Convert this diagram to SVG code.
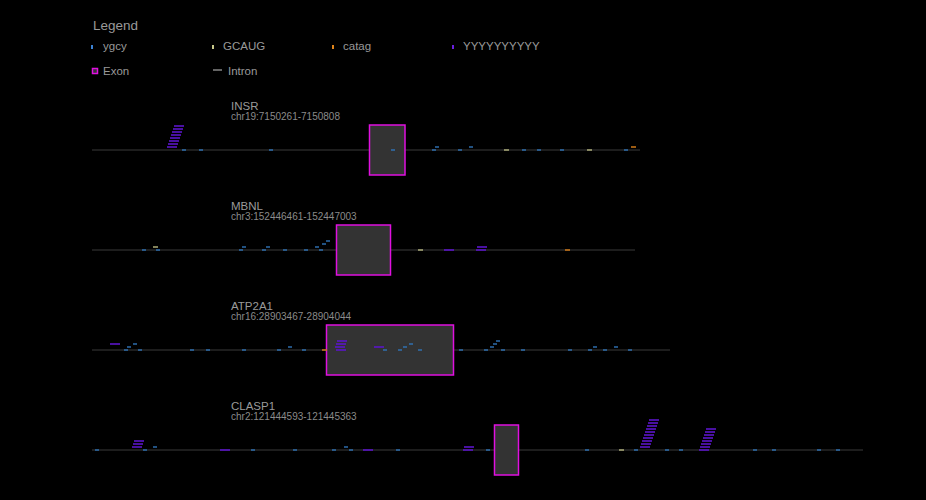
<svg xmlns="http://www.w3.org/2000/svg" width="926" height="500" viewBox="0 0 926 500">
<style>
text{font-family:"Liberation Sans",Arial,sans-serif;fill:#999}
.lt{font-size:13.5px}
.li{font-size:11.5px}
.gn{font-size:11.5px;fill:#9a9a9a}
.gc{font-size:10px;fill:#8a8a8a}
.intron{fill:#252525}
.exon{fill:#333;stroke:#e010e0;stroke-width:1.5}
.y{fill:#2f73b8;opacity:.7}
.g{fill:#b8b880;opacity:.7}
.c{fill:#d07a18;opacity:.75}
.p{fill:#5a14c8;opacity:.8}
</style>
<rect width="926" height="500" fill="#000"/>
<g id="legend">
<text class="lt" x="93" y="30">Legend</text>
<rect x="91" y="45" width="2" height="4" fill="#3b82d4"/>
<text class="li" x="103" y="50">ygcy</text>
<rect x="212" y="45" width="2" height="4" fill="#c8c88a"/>
<text class="li" x="223" y="50">GCAUG</text>
<rect x="332" y="45" width="2" height="4" fill="#e0841a"/>
<text class="li" x="343" y="50">catag</text>
<rect x="452" y="45" width="2" height="4" fill="#6a1fe0"/>
<text class="li" x="463" y="50">YYYYYYYYYY</text>
<rect x="92.5" y="68.5" width="5" height="5" fill="#333" stroke="#e010e0" stroke-width="1.5"/>
<text class="li" x="103" y="75">Exon</text>
<line x1="213" y1="70" x2="222" y2="70" stroke="#777" stroke-width="1.7"/>
<text class="li" x="228" y="75">Intron</text>
</g>
<g id="connectors">
<rect class="intron" x="92" y="149.2" width="548" height="1.6"/>
<rect class="intron" x="92" y="249.2" width="543" height="1.6"/>
<rect class="intron" x="92" y="349.2" width="578" height="1.6"/>
<rect class="intron" x="92" y="449.2" width="771" height="1.6"/>
</g>
<g id="gene-INSR">
<text class="gn" x="231" y="110">INSR</text>
<text class="gc" x="231" y="120">chr19:7150261-7150808</text>
<rect class="exon" x="369.5" y="125" width="35.5" height="50"/>
<rect class="p" x="167" y="146" width="10" height="2"/>
<rect class="p" x="168" y="143" width="10" height="2"/>
<rect class="p" x="169" y="140" width="10" height="2"/>
<rect class="p" x="170" y="137" width="10" height="2"/>
<rect class="p" x="171" y="134" width="10" height="2"/>
<rect class="p" x="172" y="131" width="10" height="2"/>
<rect class="p" x="173" y="128" width="10" height="2"/>
<rect class="p" x="174" y="125" width="10" height="2"/>
<rect class="y" x="182" y="149" width="4" height="2"/>
<rect class="y" x="199" y="149" width="4" height="2"/>
<rect class="y" x="269" y="149" width="4" height="2"/>
<rect class="y" x="391" y="149" width="4" height="2"/>
<rect class="y" x="432" y="149" width="4" height="2"/>
<rect class="y" x="435" y="146" width="4" height="2"/>
<rect class="y" x="458" y="149" width="4" height="2"/>
<rect class="y" x="469" y="146" width="4" height="2"/>
<rect class="g" x="504" y="149" width="5" height="2"/>
<rect class="y" x="522" y="149" width="4" height="2"/>
<rect class="y" x="537" y="149" width="4" height="2"/>
<rect class="y" x="560" y="149" width="4" height="2"/>
<rect class="g" x="587" y="149" width="5" height="2"/>
<rect class="y" x="624" y="149" width="4" height="2"/>
<rect class="c" x="631" y="146" width="5" height="2"/>
</g>
<g id="gene-MBNL">
<text class="gn" x="231" y="210">MBNL</text>
<text class="gc" x="231" y="220">chr3:152446461-152447003</text>
<rect class="exon" x="336.5" y="225" width="54" height="50"/>
<rect class="y" x="142" y="249" width="4" height="2"/>
<rect class="g" x="153" y="246" width="5" height="2"/>
<rect class="y" x="156" y="249" width="4" height="2"/>
<rect class="y" x="239" y="249" width="4" height="2"/>
<rect class="y" x="242" y="246" width="4" height="2"/>
<rect class="y" x="262" y="249" width="4" height="2"/>
<rect class="y" x="266" y="246" width="4" height="2"/>
<rect class="y" x="283" y="249" width="4" height="2"/>
<rect class="y" x="304" y="249" width="4" height="2"/>
<rect class="y" x="315" y="246" width="4" height="2"/>
<rect class="y" x="319" y="249" width="4" height="2"/>
<rect class="y" x="322" y="243" width="4" height="2"/>
<rect class="y" x="326" y="240" width="4" height="2"/>
<rect class="g" x="418" y="249" width="5" height="2"/>
<rect class="p" x="444" y="249" width="10" height="2"/>
<rect class="p" x="476" y="249" width="10" height="2"/>
<rect class="p" x="477" y="246" width="10" height="2"/>
<rect class="c" x="565" y="249" width="5" height="2"/>
</g>
<g id="gene-ATP2A1">
<text class="gn" x="231" y="310">ATP2A1</text>
<text class="gc" x="231" y="320">chr16:28903467-28904044</text>
<rect class="exon" x="326.5" y="325" width="127" height="50"/>
<rect class="p" x="110" y="343" width="10" height="2"/>
<rect class="y" x="124" y="349" width="4" height="2"/>
<rect class="y" x="127" y="346" width="4" height="2"/>
<rect class="y" x="133" y="343" width="4" height="2"/>
<rect class="y" x="138" y="349" width="4" height="2"/>
<rect class="y" x="190" y="349" width="4" height="2"/>
<rect class="y" x="206" y="349" width="4" height="2"/>
<rect class="y" x="242" y="349" width="4" height="2"/>
<rect class="y" x="277" y="349" width="4" height="2"/>
<rect class="y" x="288" y="346" width="4" height="2"/>
<rect class="y" x="302" y="349" width="4" height="2"/>
<rect class="c" x="322" y="349" width="5" height="2"/>
<rect class="p" x="336" y="349" width="10" height="2"/>
<rect class="p" x="335" y="346" width="10" height="2"/>
<rect class="p" x="336" y="343" width="10" height="2"/>
<rect class="p" x="337" y="340" width="10" height="2"/>
<rect class="p" x="374" y="346" width="10" height="2"/>
<rect class="y" x="383" y="349" width="4" height="2"/>
<rect class="y" x="398" y="349" width="4" height="2"/>
<rect class="y" x="403" y="346" width="4" height="2"/>
<rect class="y" x="409" y="343" width="4" height="2"/>
<rect class="y" x="418" y="349" width="4" height="2"/>
<rect class="y" x="459" y="349" width="4" height="2"/>
<rect class="y" x="484" y="349" width="4" height="2"/>
<rect class="y" x="490" y="346" width="4" height="2"/>
<rect class="y" x="493" y="343" width="4" height="2"/>
<rect class="y" x="496" y="340" width="4" height="2"/>
<rect class="y" x="501" y="349" width="4" height="2"/>
<rect class="y" x="521" y="349" width="4" height="2"/>
<rect class="y" x="568" y="349" width="4" height="2"/>
<rect class="y" x="588" y="349" width="4" height="2"/>
<rect class="y" x="593" y="346" width="4" height="2"/>
<rect class="y" x="603" y="349" width="4" height="2"/>
<rect class="y" x="614" y="346" width="4" height="2"/>
<rect class="y" x="628" y="349" width="4" height="2"/>
</g>
<g id="gene-CLASP1">
<text class="gn" x="231" y="410">CLASP1</text>
<text class="gc" x="231" y="420">chr2:121444593-121445363</text>
<rect class="exon" x="494.5" y="425" width="24" height="50"/>
<rect class="y" x="95" y="449" width="4" height="2"/>
<rect class="p" x="132" y="446" width="10" height="2"/>
<rect class="p" x="133" y="443" width="10" height="2"/>
<rect class="p" x="134" y="440" width="10" height="2"/>
<rect class="y" x="143" y="449" width="4" height="2"/>
<rect class="y" x="153" y="446" width="4" height="2"/>
<rect class="p" x="220" y="449" width="10" height="2"/>
<rect class="y" x="251" y="449" width="4" height="2"/>
<rect class="y" x="293" y="449" width="4" height="2"/>
<rect class="y" x="332" y="449" width="4" height="2"/>
<rect class="y" x="344" y="446" width="4" height="2"/>
<rect class="y" x="349" y="449" width="4" height="2"/>
<rect class="p" x="363" y="449" width="10" height="2"/>
<rect class="y" x="396" y="449" width="4" height="2"/>
<rect class="p" x="463" y="449" width="10" height="2"/>
<rect class="p" x="464" y="446" width="10" height="2"/>
<rect class="y" x="486" y="449" width="4" height="2"/>
<rect class="y" x="585" y="449" width="4" height="2"/>
<rect class="g" x="619" y="449" width="5" height="2"/>
<rect class="y" x="634" y="449" width="4" height="2"/>
<rect class="p" x="640" y="446" width="10" height="2"/>
<rect class="p" x="641" y="443" width="10" height="2"/>
<rect class="p" x="642" y="440" width="10" height="2"/>
<rect class="p" x="643" y="437" width="10" height="2"/>
<rect class="p" x="644" y="434" width="10" height="2"/>
<rect class="p" x="645" y="431" width="10" height="2"/>
<rect class="p" x="646" y="428" width="10" height="2"/>
<rect class="p" x="647" y="425" width="10" height="2"/>
<rect class="p" x="648" y="422" width="10" height="2"/>
<rect class="p" x="649" y="419" width="10" height="2"/>
<rect class="y" x="665" y="449" width="4" height="2"/>
<rect class="y" x="679" y="449" width="4" height="2"/>
<rect class="p" x="699" y="449" width="10" height="2"/>
<rect class="p" x="700" y="446" width="10" height="2"/>
<rect class="p" x="701" y="443" width="10" height="2"/>
<rect class="p" x="702" y="440" width="10" height="2"/>
<rect class="p" x="703" y="437" width="10" height="2"/>
<rect class="p" x="704" y="434" width="10" height="2"/>
<rect class="p" x="705" y="431" width="10" height="2"/>
<rect class="p" x="706" y="428" width="10" height="2"/>
<rect class="y" x="753" y="449" width="4" height="2"/>
<rect class="y" x="772" y="449" width="4" height="2"/>
<rect class="y" x="817" y="449" width="4" height="2"/>
<rect class="y" x="836" y="449" width="4" height="2"/>
</g>
</svg>
